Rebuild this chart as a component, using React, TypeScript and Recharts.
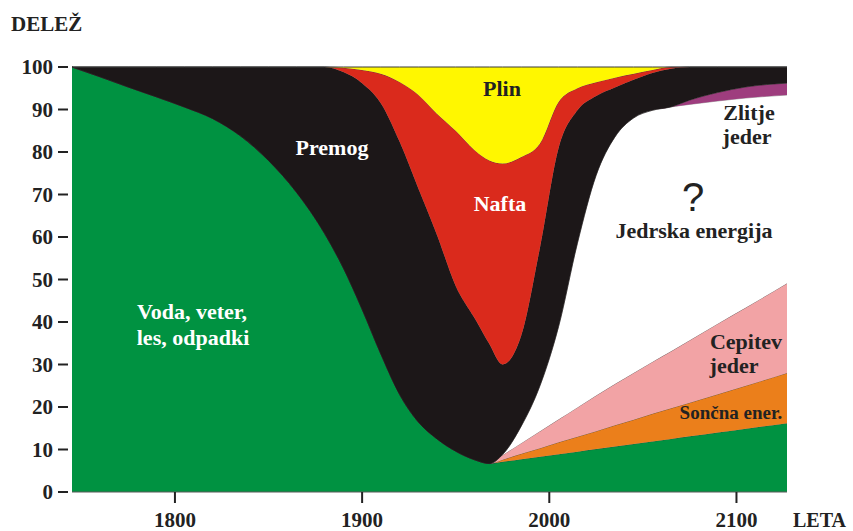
import React from 'react';
import { AreaChart, Area, XAxis, YAxis } from 'recharts';

// years on the x axis
const years = [
  1745, 1760, 1775, 1790, 1805, 1820, 1835, 1850, 1865, 1880, 1890, 1900, 1910, 1920, 1930, 1940, 1950,
  1960, 1968, 1975, 1985, 1995, 2005, 2015, 2025, 2035, 2045, 2055, 2065, 2075, 2090, 2105, 2127,
];

// share (%) of each source, bottom to top of the stack
const vodaVeterLes = [
  100, 97.7, 95.3, 93.0, 90.6, 87.9, 83.8, 78.0, 70.5, 60.8, 52.7, 43, 32.5, 23, 16.5, 12.5, 9.6,
  7.6, 6.7, 7.1, 7.7, 8.3, 8.9, 9.5, 10.1, 10.7, 11.3, 11.9, 12.5, 13.1, 14.0, 14.9, 16.2,
];
const soncna = [
  0, 0, 0, 0, 0, 0, 0, 0, 0, 0, 0, 0, 0, 0, 0, 0, 0,
  0, 0, 0.5, 1.3, 2.0, 2.8, 3.5, 4.2, 5.0, 5.7, 6.5, 7.2, 7.9, 9.0, 10.1, 11.8,
];
const cepitev = [
  0, 0, 0, 0, 0, 0, 0, 0, 0, 0, 0, 0, 0, 0, 0, 0, 0,
  0, 0, 1.1, 2.5, 4.0, 5.4, 6.9, 8.4, 9.7, 11, 12.2, 13.4, 14.7, 16.6, 18.4, 21.1,
];
const jedrska = [
  0, 0, 0, 0, 0, 0, 0, 0, 0, 0, 0, 0, 0, 0, 0, 0, 0,
  0, 0, 0.1, 4.0, 10.7, 21.9, 38.6, 51.8, 58.1, 60, 59.2, 57.5, 55.5, 52.4, 49.3, 44.3,
];
const zlitje = [
  0, 0, 0, 0, 0, 0, 0, 0, 0, 0, 0, 0, 0, 0, 0, 0, 0,
  0, 0, 0, 0, 0, 0, 0, 0, 0, 0, 0, 0, 1.0, 2.0, 2.6, 2.8,
];
const premog = [
  0, 2.3, 4.7, 7.0, 9.4, 12.1, 16.2, 22.0, 29.5, 39.2, 46.1, 53.2, 59, 59.5, 55, 48, 38.9,
  33.4, 28.1, 21.2, 21.3, 32.5, 42, 31.3, 18.7, 11.7, 9, 8.8, 9.0, 7.8, 6.0, 4.7, 3.8,
];
const nafta = [
  0, 0, 0, 0, 0, 0, 0, 0, 0, 0, 1.0, 3.1, 6.9, 14, 22, 28.5, 36.5,
  39.5, 43.2, 47.3, 42, 24.5, 10.8, 5.2, 3.2, 2.3, 1.4, 0.7, 0.4, 0, 0, 0, 0,
];
const plin = [
  0, 0, 0, 0, 0, 0, 0, 0, 0, 0, 0.2, 0.7, 1.6, 3.5, 6.5, 11, 15,
  19.5, 22, 22.7, 21.2, 18, 8.2, 5, 3.6, 2.5, 1.6, 0.7, 0, 0, 0, 0, 0,
];

const xTicks = [1800, 1900, 2000, 2100];
const yTicks = [0, 10, 20, 30, 40, 50, 60, 70, 80, 90, 100];

const data = years.map((leto, i) => ({
  leto,
  voda: vodaVeterLes[i],
  soncna: soncna[i],
  cepitev: cepitev[i],
  jedrska: jedrska[i],
  zlitje: zlitje[i],
  premog: premog[i],
  nafta: nafta[i],
  plin: plin[i],
}));

const W = 853;
const H = 531;
const PLOT_LEFT = 72;
const PLOT_BOTTOM = 492;
const FONT = "'Liberation Serif', 'Times New Roman', serif";
const EDGE = '#3a3a3a';

const YTick = (props: any) => {
  const { y, payload } = props;
  return (
    <g>
      <line x1={PLOT_LEFT - 14} x2={PLOT_LEFT - 4} y1={y} y2={y} stroke="#222" strokeWidth={2} />
      <text x={53} y={y + 7} textAnchor="end" fontFamily={FONT} fontWeight="bold" fontSize={21} fill="#222">
        {payload.value}
      </text>
    </g>
  );
};

const XTick = (props: any) => {
  const { x, payload } = props;
  return (
    <g>
      <line x1={x} x2={x} y1={PLOT_BOTTOM} y2={PLOT_BOTTOM + 11} stroke="#222" strokeWidth={2} />
      <text x={x} y={527} textAnchor="middle" fontFamily={FONT} fontWeight="bold" fontSize={21} fill="#222">
        {payload.value}
      </text>
    </g>
  );
};

const Txt = ({ x, y, fill = '#222', size = 22, anchor = 'middle', children }: any) => (
  <text x={x} y={y} textAnchor={anchor} fontFamily={FONT} fontWeight="bold" fontSize={size} fill={fill}>
    {children}
  </text>
);

export default function App() {
  return (
    <div style={{ position: 'absolute', left: 0, top: 0, width: W, height: H, background: '#fff' }}>
      <AreaChart
        width={W}
        height={H}
        data={data}
        margin={{ top: 67, right: 66, bottom: 9, left: 12 }}
      >
        <XAxis
          dataKey="leto"
          type="number"
          domain={[1745, 2127]}
          ticks={xTicks}
          height={30}
          tickLine={false}
          axisLine={{ stroke: '#5a5a5a' }}
          tick={<XTick />}
        />
        <YAxis
          type="number"
          domain={[0, 100]}
          ticks={yTicks}
          width={60}
          axisLine={false}
          tickLine={false}
          tick={<YTick />}
        />
        <Area type="monotone" dataKey="voda" stackId="1" fill="#009241" fillOpacity={1} stroke={EDGE} strokeWidth={0.6} isAnimationActive={false} />
        <Area type="monotone" dataKey="soncna" stackId="1" fill="#EB7F1B" fillOpacity={1} stroke={EDGE} strokeWidth={0.6} isAnimationActive={false} />
        <Area type="monotone" dataKey="cepitev" stackId="1" fill="#F2A3A5" fillOpacity={1} stroke={EDGE} strokeWidth={0.6} isAnimationActive={false} />
        <Area type="monotone" dataKey="jedrska" stackId="1" fill="#FFFFFF" fillOpacity={1} stroke={EDGE} strokeWidth={0.4} isAnimationActive={false} />
        <Area type="monotone" dataKey="zlitje" stackId="1" fill="#9E3D7E" fillOpacity={1} stroke="#1c1718" strokeWidth={0.6} isAnimationActive={false} />
        <Area type="monotone" dataKey="premog" stackId="1" fill="#1C1718" fillOpacity={1} stroke="#1c1718" strokeWidth={0.6} isAnimationActive={false} />
        <Area type="monotone" dataKey="nafta" stackId="1" fill="#DA2A1C" fillOpacity={1} stroke={EDGE} strokeWidth={0.6} isAnimationActive={false} />
        <Area type="monotone" dataKey="plin" stackId="1" fill="#FFF700" fillOpacity={1} stroke={EDGE} strokeWidth={1} isAnimationActive={false} />
      </AreaChart>
      <svg width={W} height={H} style={{ position: 'absolute', left: 0, top: 0, pointerEvents: 'none' }}>
        <Txt x={11} y={31} size={21} anchor="start">DELEŽ</Txt>
        <Txt x={793} y={527} size={20} anchor="start">LETA</Txt>
        <Txt x={332} y={155} fill="#fff">Premog</Txt>
        <Txt x={502} y={96}>Plin</Txt>
        <Txt x={500} y={211} fill="#fff">Nafta</Txt>
        <Txt x={749} y={120}>Zlitje</Txt>
        <Txt x={747} y={144}>jeder</Txt>
        <text x={693} y={211} textAnchor="middle" fontFamily="'Liberation Sans', Arial, sans-serif" fontSize={40} fill="#222">?</text>
        <Txt x={694} y={238}>Jedrska energija</Txt>
        <Txt x={192} y={319} fill="#fff">Voda, veter,</Txt>
        <Txt x={193} y={345} fill="#fff">les, odpadki</Txt>
        <Txt x={746} y={349}>Cepitev</Txt>
        <Txt x={734} y={373}>jeder</Txt>
        <Txt x={731} y={419} size={19}>Sončna ener.</Txt>
      </svg>
    </div>
  );
}
